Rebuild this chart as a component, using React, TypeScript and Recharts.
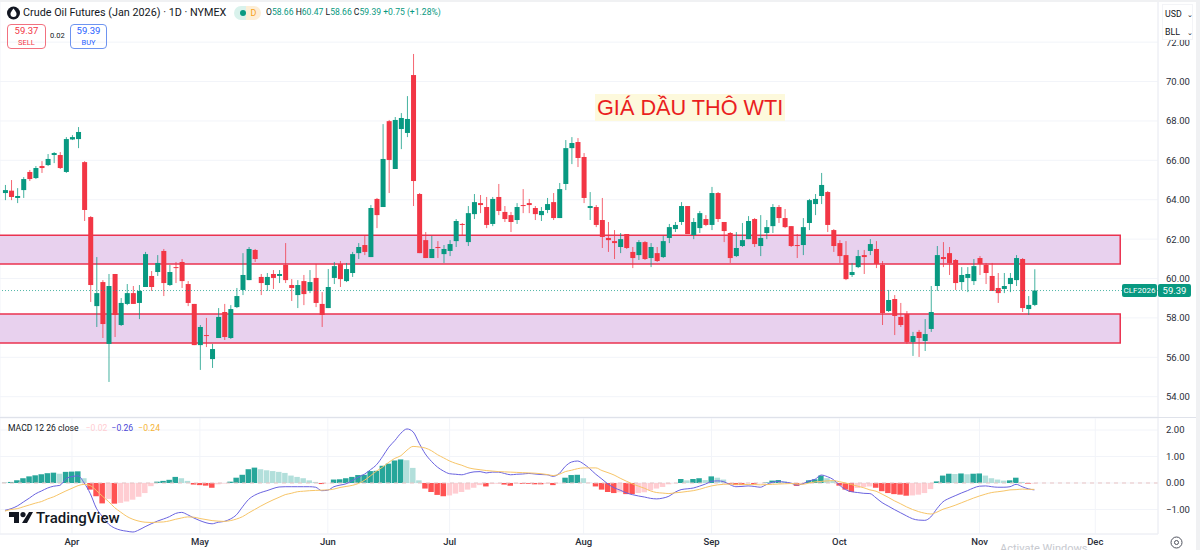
import { Bar, CartesianGrid, Cell, ComposedChart, Line, ReferenceArea, ReferenceLine, XAxis, YAxis } from 'recharts';

const UP = '#089981';
const DOWN = '#f23645';

const opens = [
  64.34, 64.46, 64.09, 64.49, 65.41, 65.10, 65.71, 65.76, 66.27, 66.27,
  65.41, 67.06, 67.08, 65.91, 63.12, 58.60, 59.82, 56.68, 60.23, 57.64,
  58.71, 59.26, 58.76, 59.57, 60.13, 60.33, 61.40, 59.67, 60.58, 60.84,
  59.72, 58.71, 56.62, 57.13, 55.91, 56.98, 58.30, 56.98, 58.55, 59.42,
  59.92, 61.45, 60.08, 59.67, 60.23, 60.13, 60.69, 59.67, 59.16, 59.87,
  59.37, 60.03, 58.71, 58.50, 60.03, 60.74, 59.87, 60.28, 61.29, 61.70,
  61.09, 64.04, 63.63, 67.99, 65.56, 67.59, 67.39, 70.33, 64.29, 61.95,
  61.04, 61.60, 61.24, 61.40, 61.90, 62.77, 61.85, 63.27, 63.83, 63.63,
  62.77, 64.14, 63.38, 63.22, 62.97, 63.73, 63.83, 63.58, 63.22, 63.48,
  63.88, 63.07, 64.80, 66.62, 66.93, 66.17, 63.58, 63.63, 62.97, 62.06,
  61.90, 61.60, 62.26, 61.35, 61.19, 61.85, 61.04, 61.29, 61.09, 62.06,
  62.51, 62.87, 63.68, 62.21, 62.56, 63.02, 62.72, 64.34, 62.87, 62.31,
  61.14, 61.65, 62.00, 63.02, 61.65, 62.31, 62.66, 63.63, 63.07, 62.66,
  61.70, 61.70, 62.82, 63.78, 64.19, 64.39, 62.46, 61.80, 61.19, 60.18,
  60.58, 61.19, 61.40, 61.50, 60.69, 58.35, 58.96, 58.05, 58.20, 56.78,
  57.29, 56.83, 57.44, 59.62, 61.09, 61.29, 60.94, 59.82, 60.03, 59.87,
  61.04, 60.69, 60.13, 59.52, 59.47, 59.72, 59.92, 60.99, 58.45, 58.66,
];

const highs = [
  64.75, 65.00, 64.59, 65.15, 65.51, 65.71, 65.96, 66.32, 66.42, 66.42,
  67.18, 67.28, 67.69, 65.96, 63.17, 61.09, 59.92, 60.23, 60.23, 59.01,
  59.72, 59.62, 59.67, 61.35, 60.38, 61.19, 61.50, 60.69, 60.84, 60.99,
  59.87, 58.71, 57.64, 58.00, 56.68, 58.50, 58.71, 58.65, 59.52, 61.29,
  61.60, 61.50, 60.23, 60.28, 60.43, 60.43, 61.80, 59.97, 59.92, 60.18,
  60.43, 60.74, 59.31, 60.48, 60.84, 60.89, 60.79, 61.35, 61.80, 62.16,
  63.73, 64.09, 67.84, 68.05, 68.20, 68.40, 69.26, 71.40, 64.34, 62.36,
  62.16, 61.90, 61.70, 61.95, 63.02, 62.82, 63.68, 64.29, 64.24, 64.14,
  64.14, 64.80, 63.68, 63.38, 63.83, 64.54, 64.04, 63.68, 63.63, 64.09,
  64.34, 64.85, 67.03, 67.18, 67.13, 66.37, 64.39, 63.73, 64.09, 62.87,
  62.46, 62.31, 62.26, 61.60, 61.95, 61.90, 61.80, 61.60, 62.16, 62.77,
  62.87, 63.88, 63.68, 63.07, 63.43, 63.22, 64.65, 64.39, 62.87, 62.36,
  62.36, 62.82, 63.17, 63.07, 63.22, 62.97, 63.78, 63.73, 63.53, 62.66,
  62.26, 63.07, 64.04, 64.29, 65.36, 64.44, 62.51, 61.95, 61.90, 60.79,
  61.45, 61.45, 62.00, 61.90, 60.89, 59.42, 59.16, 58.76, 58.35, 57.29,
  57.39, 57.94, 59.62, 61.65, 61.85, 61.60, 60.99, 60.58, 60.58, 60.99,
  61.14, 60.79, 60.79, 60.28, 60.28, 60.28, 61.19, 61.04, 59.11, 60.47,
];

const lows = [
  63.98, 63.98, 63.83, 64.09, 64.95, 65.05, 65.36, 65.71, 65.86, 65.56,
  65.36, 67.03, 66.62, 62.92, 58.81, 57.54, 56.98, 54.75, 57.03, 57.59,
  58.65, 58.71, 57.94, 59.57, 59.37, 60.13, 59.11, 59.62, 59.77, 59.52,
  58.60, 56.62, 55.36, 56.52, 55.46, 56.98, 56.88, 56.93, 58.50, 59.16,
  59.92, 60.84, 59.16, 59.37, 59.47, 59.77, 59.77, 58.86, 58.50, 58.65,
  59.26, 58.55, 57.54, 58.50, 59.72, 59.57, 59.82, 60.08, 60.99, 61.19,
  61.09, 62.56, 63.63, 64.34, 65.56, 66.57, 67.18, 63.68, 61.29, 61.04,
  61.04, 61.04, 60.79, 61.14, 61.60, 62.21, 61.65, 63.02, 63.32, 62.56,
  62.66, 63.22, 62.87, 62.36, 62.77, 63.32, 63.32, 62.97, 62.92, 63.32,
  62.97, 63.07, 64.49, 65.81, 65.66, 63.83, 62.97, 62.61, 61.55, 61.35,
  60.99, 61.29, 61.50, 60.53, 60.94, 60.94, 60.58, 60.84, 61.04, 61.80,
  62.36, 62.72, 62.26, 62.00, 62.31, 62.66, 62.46, 62.87, 61.85, 60.79,
  61.09, 61.60, 62.00, 61.60, 61.14, 62.00, 62.31, 62.82, 62.56, 61.60,
  61.04, 61.19, 62.46, 63.22, 63.78, 62.36, 61.35, 60.79, 59.92, 60.08,
  60.53, 60.23, 61.19, 60.53, 57.64, 58.30, 57.13, 57.54, 56.68, 56.07,
  56.02, 56.32, 57.29, 59.37, 60.58, 60.18, 59.42, 59.42, 59.31, 59.67,
  60.18, 59.72, 59.37, 58.76, 59.26, 59.31, 59.62, 58.30, 58.15, 58.60,
];

const closes = [
  64.49, 64.14, 64.19, 65.05, 65.05, 65.61, 65.61, 66.07, 66.37, 65.61,
  67.08, 67.18, 67.44, 63.48, 59.67, 59.26, 57.69, 59.62, 58.15, 58.76,
  59.26, 58.71, 59.37, 61.24, 59.57, 60.79, 59.77, 60.33, 60.53, 59.87,
  58.76, 56.62, 57.54, 57.08, 56.42, 58.05, 57.03, 58.45, 59.11, 60.18,
  61.50, 60.99, 59.77, 60.08, 60.03, 60.23, 59.92, 59.52, 59.67, 59.21,
  59.82, 58.76, 58.15, 59.57, 60.63, 59.97, 60.48, 61.24, 61.60, 61.35,
  63.58, 63.22, 66.07, 66.02, 68.05, 68.15, 68.10, 64.95, 61.29, 61.04,
  61.50, 61.55, 61.50, 61.75, 62.92, 62.72, 63.32, 63.88, 63.73, 62.72,
  64.04, 63.43, 63.02, 62.87, 63.63, 63.68, 63.73, 63.27, 63.43, 63.78,
  63.07, 64.54, 66.62, 66.88, 66.12, 64.09, 63.68, 62.72, 62.11, 61.95,
  61.80, 62.00, 61.55, 61.04, 61.85, 60.99, 61.60, 60.89, 61.90, 62.61,
  62.72, 63.68, 62.26, 62.87, 63.32, 62.72, 64.34, 63.02, 62.41, 61.04,
  61.55, 61.95, 62.92, 61.75, 62.06, 62.61, 63.63, 63.07, 62.61, 61.65,
  61.65, 62.61, 63.98, 64.04, 64.75, 62.72, 61.65, 61.14, 59.97, 60.33,
  61.14, 61.09, 61.75, 60.74, 58.25, 58.91, 58.10, 57.64, 56.78, 57.08,
  56.98, 57.18, 58.30, 61.19, 60.99, 60.79, 59.77, 60.18, 60.23, 60.63,
  60.74, 60.28, 59.37, 59.26, 59.62, 60.03, 61.04, 58.50, 58.66, 59.39,
];

const histogram = [
  0.01, 0.04, 0.10, 0.18, 0.25, 0.29, 0.33, 0.37, 0.39, 0.35,
  0.42, 0.43, 0.44, 0.18, -0.25, -0.50, -0.77, -0.60, -0.78, -0.75,
  -0.70, -0.63, -0.52, -0.38, -0.12, 0.05, 0.08, 0.12, 0.23, 0.18,
  0.08, -0.06, -0.08, -0.10, -0.18, -0.05, -0.02, 0.05, 0.20, 0.31,
  0.52, 0.58, 0.52, 0.48, 0.45, 0.42, 0.38, 0.28, 0.23, 0.18,
  0.10, 0.04, -0.04, -0.01, 0.13, 0.14, 0.18, 0.23, 0.30, 0.31,
  0.45, 0.46, 0.65, 0.73, 0.85, 0.89, 0.86, 0.57, 0.10, -0.21,
  -0.34, -0.45, -0.50, -0.47, -0.40, -0.34, -0.25, -0.18, -0.08, -0.13,
  -0.04, -0.03, -0.06, -0.10, -0.03, -0.03, -0.03, -0.05, -0.05, -0.03,
  -0.08, -0.01, 0.20, 0.30, 0.31, 0.18, 0.01, -0.13, -0.25, -0.34,
  -0.38, -0.35, -0.42, -0.42, -0.38, -0.35, -0.28, -0.21, -0.15, -0.05,
  -0.01, 0.15, 0.10, 0.15, 0.18, 0.11, 0.25, 0.20, 0.13, -0.04,
  -0.08, -0.08, -0.01, -0.05, -0.01, 0.02, 0.09, 0.11, 0.06, -0.01,
  -0.11, -0.03, 0.10, 0.14, 0.28, 0.18, 0.10, -0.10, -0.25, -0.34,
  -0.19, -0.15, -0.13, -0.18, -0.31, -0.38, -0.42, -0.44, -0.48, -0.47,
  -0.44, -0.38, -0.23, 0.06, 0.28, 0.35, 0.34, 0.36, 0.33, 0.35,
  0.36, 0.28, 0.18, 0.13, 0.09, 0.10, 0.20, 0.04, -0.03, -0.02,
];

const macdLine = [
  -1.03, -0.97, -0.87, -0.72, -0.57, -0.41, -0.30, -0.19, -0.12, -0.09,
  0.16, 0.24, 0.27, 0.00, -0.40, -0.95, -1.27, -1.55, -1.70, -1.78,
  -1.82, -1.85, -1.77, -1.65, -1.54, -1.44, -1.36, -1.27, -1.15, -1.11,
  -1.20, -1.32, -1.42, -1.50, -1.54, -1.48, -1.45, -1.36, -1.20, -0.90,
  -0.62, -0.46, -0.36, -0.29, -0.21, -0.15, -0.14, -0.14, -0.14, -0.14,
  -0.14, -0.16, -0.29, -0.27, -0.14, -0.08, -0.03, 0.09, 0.22, 0.33,
  0.50, 0.69, 1.00, 1.35, 1.60, 1.88, 2.04, 1.93, 1.50, 1.10,
  0.82, 0.60, 0.45, 0.35, 0.33, 0.31, 0.37, 0.42, 0.43, 0.38,
  0.41, 0.41, 0.36, 0.31, 0.33, 0.34, 0.36, 0.34, 0.32, 0.31,
  0.25, 0.36, 0.63, 0.79, 0.83, 0.72, 0.54, 0.33, 0.15, -0.04,
  -0.18, -0.27, -0.37, -0.44, -0.49, -0.53, -0.58, -0.60, -0.57, -0.50,
  -0.35, -0.25, -0.22, -0.19, -0.12, -0.04, 0.06, 0.08, 0.05, -0.06,
  -0.14, -0.13, -0.11, -0.13, -0.16, -0.06, 0.03, 0.06, 0.03, 0.00,
  -0.08, -0.03, 0.08, 0.14, 0.30, 0.24, 0.13, -0.08, -0.25, -0.33,
  -0.36, -0.39, -0.40, -0.56, -0.74, -0.87, -1.00, -1.12, -1.24, -1.35,
  -1.40, -1.41, -1.28, -0.97, -0.71, -0.58, -0.48, -0.38, -0.29, -0.19,
  -0.12, -0.11, -0.14, -0.16, -0.16, -0.14, -0.05, -0.14, -0.22, -0.26,
];

const signalLine = [
  -1.06, -1.00, -0.97, -0.90, -0.83, -0.76, -0.70, -0.60, -0.52, -0.41,
  -0.30, -0.20, -0.10, -0.05, -0.10, -0.28, -0.50, -0.70, -0.93, -1.10,
  -1.26, -1.37, -1.44, -1.48, -1.49, -1.48, -1.47, -1.43, -1.37, -1.32,
  -1.28, -1.29, -1.34, -1.38, -1.42, -1.44, -1.45, -1.42, -1.36, -1.27,
  -1.13, -1.00, -0.87, -0.75, -0.64, -0.54, -0.44, -0.39, -0.33, -0.31,
  -0.29, -0.28, -0.27, -0.26, -0.23, -0.17, -0.13, -0.09, -0.02, 0.10,
  0.27, 0.45, 0.60, 0.78, 0.93, 1.03, 1.24, 1.38, 1.36, 1.32,
  1.22, 1.07, 0.95, 0.83, 0.74, 0.67, 0.58, 0.53, 0.50, 0.47,
  0.45, 0.43, 0.42, 0.41, 0.40, 0.39, 0.38, 0.37, 0.35, 0.32,
  0.28, 0.33, 0.43, 0.48, 0.54, 0.57, 0.57, 0.57, 0.47, 0.39,
  0.30, 0.18, 0.07, -0.03, -0.12, -0.20, -0.30, -0.36, -0.38, -0.40,
  -0.37, -0.35, -0.32, -0.29, -0.24, -0.17, -0.11, -0.07, -0.05, -0.04,
  -0.05, -0.05, -0.06, -0.06, -0.07, -0.06, -0.05, -0.04, -0.03, -0.02,
  -0.04, -0.05, 0.00, 0.04, 0.06, 0.08, 0.09, 0.05, 0.00, -0.06,
  -0.12, -0.18, -0.26, -0.31, -0.42, -0.54, -0.67, -0.78, -0.90, -1.00,
  -1.08, -1.14, -1.17, -1.10, -0.99, -0.92, -0.84, -0.75, -0.66, -0.57,
  -0.49, -0.42, -0.36, -0.33, -0.30, -0.26, -0.25, -0.23, -0.24, -0.24,
];

const monthTicks = [11, 32, 53, 73, 95, 116, 137, 160, 179];
const monthLabels = ['Apr', 'May', 'Jun', 'Jul', 'Aug', 'Sep', 'Oct', 'Nov', 'Dec'];
const priceTicks = [54, 56, 58, 60, 62, 64, 66, 68, 70, 72];
const macdTicks = [-1, 0, 1, 2];
const zones = [[60.74, 62.2], [56.73, 58.2]];
const lastPrice = 59.39;

const candles = opens.map((open, i) => ({
  i,
  open,
  high: highs[i],
  low: lows[i],
  close: closes[i],
  range: [lows[i], highs[i]],
}));

const macdRows = histogram.map((hist, i) => ({ i, hist, macd: macdLine[i], signal: signalLine[i] }));

// same four shades TradingView uses, picked by sign and direction
const histColor = (i: number) => {
  const v = histogram[i];
  const prev = i > 0 ? histogram[i - 1] : 0;
  if (v >= 0) return v >= prev ? '#26a69a' : '#b2dfdb';
  return v <= prev ? '#ff5252' : '#ffcdd2';
};

const Candle = (props: any) => {
  const { x, y, width, height, payload } = props;
  const top = Math.min(y, y + height);
  const h = Math.abs(height);
  const perUnit = h / (payload.high - payload.low);
  const up = payload.close >= payload.open;
  const color = up ? UP : DOWN;
  const bodyTop = top + (payload.high - Math.max(payload.open, payload.close)) * perUnit;
  const bodyH = Math.max(1, Math.abs(payload.close - payload.open) * perUnit);
  const mid = x + width / 2;
  return (
    <g>
      <line x1={mid} x2={mid} y1={top} y2={top + h} stroke={color} strokeWidth={1} opacity={0.75} />
      <rect x={x} y={bodyTop} width={width} height={bodyH} fill={color} />
    </g>
  );
};

const font = 'Roboto, Arial, sans-serif';
const xDomain = [-0.82, 189.3];
const axisText = { fontSize: 9.5, fill: '#2a2e39', fontFamily: font };

const App = () => {
  return (
    <div style={{ position: 'fixed', left: 0, top: 0, width: 1200, height: 550, background: '#fff', overflow: 'hidden', fontFamily: font, color: '#131722' }}>
      <div style={{ position: 'absolute', left: 0, top: 0 }}>
        <ComposedChart width={1200} height={417} data={candles} margin={{ top: 0, right: 0, bottom: 0, left: 0 }}>
          <CartesianGrid stroke="#f2f4f9" />
          <XAxis dataKey="i" type="number" domain={xDomain} allowDataOverflow ticks={monthTicks} tick={false} tickLine={false} axisLine={false} height={0} />
          <YAxis orientation="right" width={42} domain={[52.97, 74.14]} allowDataOverflow ticks={priceTicks} tickFormatter={(v: number) => v.toFixed(2)} tick={axisText} tickLine={false} axisLine={{ stroke: '#eceef3' }} />
          {zones.map((z) => (
            <ReferenceArea key={z[0]} x1={-2} x2={183.1} y1={z[0]} y2={z[1]} ifOverflow="hidden" fill="#e8d1ee" fillOpacity={1} stroke="#ea3350" strokeWidth={1.5} />
          ))}
          <ReferenceLine y={lastPrice} stroke={UP} strokeDasharray="1 2" strokeOpacity={0.7} />
          <Bar dataKey="range" barSize={5} shape={Candle} isAnimationActive={false} />
        </ComposedChart>
      </div>

      <div style={{ position: 'absolute', left: 0, top: 418 }}>
        <ComposedChart width={1200} height={132} data={macdRows} margin={{ top: 0, right: 0, bottom: 0, left: 0 }}>
          <CartesianGrid stroke="#f2f4f9" />
          <XAxis dataKey="i" type="number" domain={xDomain} allowDataOverflow ticks={monthTicks} tickFormatter={(v: number) => monthLabels[monthTicks.indexOf(v)]} tick={{ ...axisText, fontWeight: 500, dy: -4 }} tickLine={false} axisLine={{ stroke: '#eceef3' }} height={16} interval={0} />
          <YAxis orientation="right" width={42} domain={[-1.925, 2.453]} allowDataOverflow ticks={macdTicks} tickFormatter={(v: number) => (v < 0 ? `\u2212${Math.abs(v).toFixed(2)}` : v.toFixed(2))} tick={axisText} tickLine={false} axisLine={{ stroke: '#eceef3' }} />
          <ReferenceLine y={0} stroke="#e8c4c4" strokeDasharray="4 4" />
          <Bar dataKey="hist" barSize={5.5} isAnimationActive={false}>
            {macdRows.map((r) => (
              <Cell key={r.i} fill={histColor(r.i)} />
            ))}
          </Bar>
          <Line dataKey="macd" stroke="#6a63e0" strokeWidth={1} dot={false} type="monotone" isAnimationActive={false} />
          <Line dataKey="signal" stroke="#f7c568" strokeWidth={1} dot={false} type="monotone" isAnimationActive={false} />
        </ComposedChart>
      </div>

      {/* pane separators */}
      <div style={{ position: 'absolute', left: 0, top: 417, width: 1196, height: 1, background: '#dfe2ea' }} />
      <div style={{ position: 'absolute', left: 1196, top: 0, width: 4, height: 550, background: '#f0f1f3' }} />
      <div style={{ position: 'absolute', left: 0, top: 0, width: 1200, height: 2, background: '#f0f1f3' }} />

      {/* header */}
      <svg style={{ position: 'absolute', left: 7, top: 6 }} width={13} height={14}>
        <circle cx={6.5} cy={7} r={6.5} fill="#131722" />
        <path d="M6.5 2.5 C8.5 5 9.5 6.5 9.5 8 A3 3 0 0 1 3.5 8 C3.5 6.5 4.5 5 6.5 2.5Z" fill="#fff" />
      </svg>
      <div style={{ position: 'absolute', left: 23, top: 6, fontSize: 10.8, whiteSpace: 'nowrap' }}>Crude Oil Futures (Jan 2026) · 1D · NYMEX</div>
      <div style={{ position: 'absolute', left: 234, top: 6, width: 18, height: 14, borderRadius: '7px 0 0 7px', background: '#d9f2ec' }}>
        <div style={{ position: 'absolute', left: 6, top: 4, width: 6, height: 6, borderRadius: 3, background: UP }} />
      </div>
      <div style={{ position: 'absolute', left: 246, top: 6, width: 15, height: 14, borderRadius: '0 7px 7px 0', background: '#fdeed6', color: '#f7a21b', fontSize: 9, lineHeight: '14px', textAlign: 'center' }}>D</div>
      <div style={{ position: 'absolute', left: 266, top: 7, fontSize: 8.6, whiteSpace: 'nowrap', color: UP }}>
        <span style={{ color: '#131722' }}>O</span>58.66 <span style={{ color: '#131722' }}>H</span>60.47 <span style={{ color: '#131722' }}>L</span>58.66 <span style={{ color: '#131722' }}>C</span>59.39 +0.75 (+1.28%)
      </div>
      <div style={{ position: 'absolute', left: 7, top: 24, width: 37, height: 22, border: '1px solid #f2717f', borderRadius: 4, color: '#f23645', textAlign: 'center', fontSize: 9.5, lineHeight: '10.5px', paddingTop: 1 }}>
        59.37<br /><span style={{ fontSize: 7.5 }}>SELL</span>
      </div>
      <div style={{ position: 'absolute', left: 50, top: 31, fontSize: 7.5 }}>0.02</div>
      <div style={{ position: 'absolute', left: 70, top: 24, width: 35, height: 22, border: '1px solid #6e94f0', borderRadius: 4, color: '#2962ff', textAlign: 'center', fontSize: 9.5, lineHeight: '10.5px', paddingTop: 1 }}>
        59.39<br /><span style={{ fontSize: 7.5 }}>BUY</span>
      </div>

      {/* annotation */}
      <div style={{ position: 'absolute', left: 595, top: 94, padding: '0 2px', height: 27, lineHeight: '27px', background: '#fdf9dc', color: '#ea1f1f', fontSize: 21.7, fontFamily: '"Liberation Sans", Arial, sans-serif', whiteSpace: 'nowrap' }}>GIÁ DẦU THÔ WTI</div>

      {/* unit box and price tags */}
      <div style={{ position: 'absolute', left: 1162, top: 4, width: 31, height: 36, background: '#fff', fontSize: 8.8, lineHeight: '16.5px', paddingLeft: 2, paddingTop: 1, boxSizing: 'border-box', border: '1px solid #f3f4f7' }}>
        USD<span style={{ marginLeft: 5, fontSize: 7 }}>⌄</span><br />BLL<span style={{ marginLeft: 7, fontSize: 7 }}>⌄</span>
      </div>
      <div style={{ position: 'absolute', left: 1122, top: 284, width: 35, height: 13, background: UP, color: '#fff', fontSize: 8, lineHeight: '13px', textAlign: 'center', borderRadius: 2 }}>CLF2026</div>
      <div style={{ position: 'absolute', left: 1158, top: 284, width: 33, height: 13, background: UP, color: '#fff', fontSize: 9.5, lineHeight: '13px', textAlign: 'center', borderRadius: 2 }}>59.39</div>

      {/* MACD legend */}
      <div style={{ position: 'absolute', left: 8, top: 423, fontSize: 8.6, whiteSpace: 'nowrap' }}>
        MACD 12 26 close <span style={{ color: '#ffcdd2', marginLeft: 5 }}>−0.02</span> <span style={{ color: '#4b47d6', marginLeft: 2 }}>−0.26</span> <span style={{ color: '#f5b335', marginLeft: 3 }}>−0.24</span>
      </div>

      {/* watermark */}
      <svg style={{ position: 'absolute', left: 9, top: 512 }} width={24} height={12}>
        <path d="M0 0H10V11H5V5H0Z M20 0H24L18 11H13Z" fill="#131722" />
        <circle cx={14} cy={2.6} r={2.6} fill="#131722" />
      </svg>
      <div style={{ position: 'absolute', left: 36, top: 509, fontSize: 15, fontWeight: 500, whiteSpace: 'nowrap' }}>TradingView</div>

      {/* bottom corner */}
      <svg style={{ position: 'absolute', left: 1170, top: 536 }} width={13} height={13}>
        <circle cx={6.5} cy={6.5} r={5.5} fill="none" stroke="#50535e" strokeWidth={1} />
        <circle cx={6.5} cy={6.5} r={2} fill="none" stroke="#50535e" strokeWidth={1} />
      </svg>
      <div style={{ position: 'absolute', left: 1000, top: 542, fontSize: 11, color: '#c7c9cf', whiteSpace: 'nowrap' }}>Activate Windows</div>
    </div>
  );
};

export default App;
